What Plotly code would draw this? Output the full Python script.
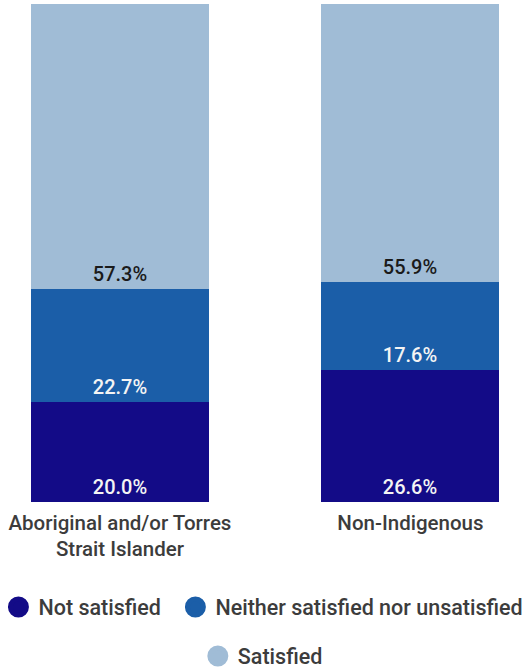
import plotly.graph_objects as go

categories = ["Aboriginal and/or Torres<br>Strait Islander", "Non-Indigenous"]
series_names = ["Not satisfied", "Neither satisfied nor unsatisfied", "Satisfied"]
not_satisfied = [20.0, 26.6]
neither = [22.7, 17.6]
satisfied = [57.3, 55.9]

colors = ["#130b87", "#1b5ea8", "#a0bcd6"]
text_colors = ["#f4f4f4", "#f4f4f4", "#1a1a1a"]
FONT = "Roboto"

W, H = 522, 668
M_L, M_R, M_T, M_B = 0, 0, 4, 166

fig = go.Figure()
for name, vals, col, tcol in zip(series_names, [not_satisfied, neither, satisfied], colors, text_colors):
    fig.add_trace(go.Bar(
        x=[0, 1], y=vals, name=name,
        marker=dict(color=col, line=dict(width=0)),
        width=0.613,
        text=[f"{v:.1f}%" for v in vals],
        textposition="inside", insidetextanchor="start",
        textfont=dict(family=FONT, size=20, color=tcol, weight=500),
        textangle=0,
        showlegend=False, hoverinfo="skip",
    ))

# Legend entries drawn as circle markers, one legend per entry for placement
legend_ids = ["legend", "legend2", "legend3"]
for name, col, lid in zip(series_names, colors, legend_ids):
    fig.add_trace(go.Scatter(
        x=[None], y=[None], mode="markers", name=name,
        marker=dict(color=col, size=16, symbol="circle",
                    line=dict(color=col, width=5)),
        legend=lid, showlegend=True,
    ))

plot_h = H - M_T - M_B
def py(pix):
    return (H - M_B - pix) / plot_h

legend_common = dict(orientation="h", bgcolor="rgba(0,0,0,0)",
                     font=dict(family=FONT, size=21.5, color="#3c3c3c", weight=500),
                     itemsizing="trace", yanchor="middle", xanchor="left")

fig.update_layout(
    width=W, height=H,
    margin=dict(l=M_L, r=M_R, t=M_T, b=M_B, pad=0, autoexpand=False),
    barmode="stack",
    bargap=0,
    plot_bgcolor="white", paper_bgcolor="white",
    xaxis=dict(range=[-0.413, 1.384], tickvals=[0, 1], ticktext=categories,
               showgrid=False, zeroline=False, showline=False,
               ticks="outside", ticklen=2, tickcolor="rgba(0,0,0,0)",
               automargin=False,
               tickfont=dict(family=FONT, size=20.5, color="#3c3c3c", weight=500)),
    yaxis=dict(range=[0, 100], visible=False, fixedrange=True),
    legend=dict(x=-0.003, y=py(607), **legend_common),
    legend2=dict(x=0.336, y=py(607), **legend_common),
    legend3=dict(x=0.379, y=py(656), **legend_common),
    uniformtext=dict(mode=False),
)

fig.write_html("out.html")
